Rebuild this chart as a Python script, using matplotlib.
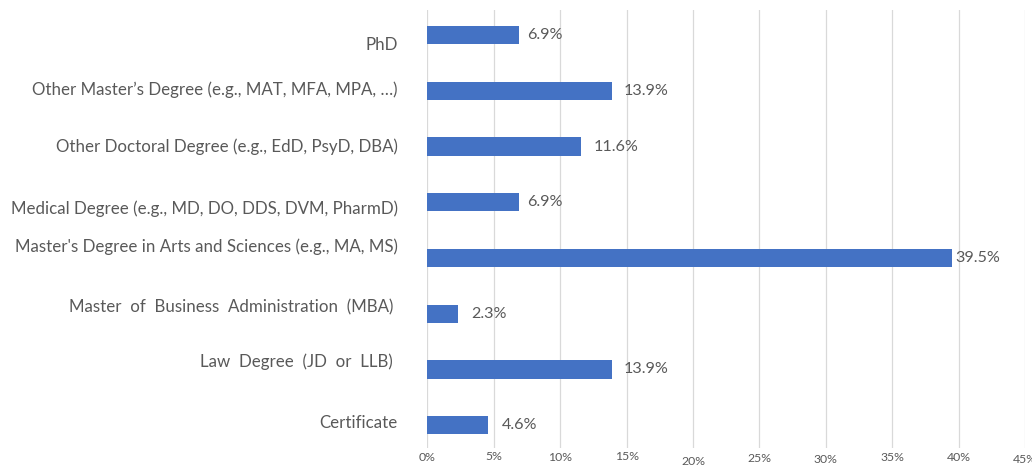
"""
Horizontal bar chart: share of respondents by graduate degree
"""

import matplotlib.pyplot as plt
from matplotlib.ticker import FuncFormatter

categories = [
    "Certificate",
    "Law  Degree  (JD  or  LLB) ",
    "Master  of  Business  Administration  (MBA) ",
    "Master's Degree in Arts and Sciences (e.g., MA, MS)",
    "Medical Degree (e.g., MD, DO, DDS, DVM, PharmD)",
    "Other Doctoral Degree (e.g., EdD, PsyD, DBA)",
    "Other Master\u2019s Degree (e.g., MAT, MFA, MPA, \u2026)",
    "PhD",
]
shares = [4.6, 13.9, 2.3, 39.5, 6.9, 11.6, 13.9, 6.9]
x_ticks = [0, 5, 10, 15, 20, 25, 30, 35, 40, 45]

BAR_COLOR = "#4472C4"
TEXT_COLOR = "#595959"
GRID_COLOR = "#d9d9d9"

# small vertical nudges (pixels) of the category labels, as in the original
label_dy = [2, 7.5, 6, 11, -6, 0, 1, -10]
# nudges of the value labels
value_dx = [13, 12, 13, 3, 8, 12, 12, 8]
# the tick labels on the x axis are slightly staggered
tick_pad = [1.2, 0, 1.2, 0, 4.8, 2.4, 3.6, 1.2, 1.2, 3.6]


def main():
    plt.rcParams['font.family'] = ['Lato', 'DejaVu Sans']
    fig = plt.figure(figsize=(10.32, 4.70), dpi=100)
    ax = fig.add_axes([427.4 / 1032, 1 - 448 / 470, (1025 - 427.4) / 1032, 438 / 470])

    pos = list(range(len(categories)))
    ax.barh(pos, shares, height=0.33, color=BAR_COLOR, zorder=3)

    ax.set_xlim(0, 45)
    ax.set_ylim(-0.41, 7.45)
    ax.set_xticks(x_ticks)
    ax.xaxis.set_major_formatter(FuncFormatter(lambda v, p: '{:d}%'.format(int(v))))
    ax.tick_params(axis='x', length=0, labelsize=8.8, labelcolor=TEXT_COLOR)
    for tick, pad in zip(ax.xaxis.get_major_ticks(), tick_pad):
        tick.set_pad(2 + pad * 0.72)
    ax.set_yticks([])
    ax.grid(axis='x', color=GRID_COLOR, linewidth=0.9, zorder=0)
    for side in ['top', 'right', 'bottom', 'left']:
        ax.spines[side].set_visible(False)

    for p, name, dy in zip(pos, categories, label_dy):
        ax.annotate(name, xy=(0, p), xycoords=('axes fraction', 'data'),
                    xytext=(-21.5, dy * 0.72), textcoords='offset points',
                    ha='right', va='center', fontsize=12.2, color=TEXT_COLOR)

    for p, val, dx in zip(pos, shares, value_dx):
        ax.annotate('{:.1f}%'.format(val), xy=(val, p),
                    xytext=(dx * 0.72, 0), textcoords='offset points',
                    ha='left', va='center', fontsize=11.6, color=TEXT_COLOR)

    fig.savefig('out.png', dpi=100)


if __name__ == '__main__':
    main()
